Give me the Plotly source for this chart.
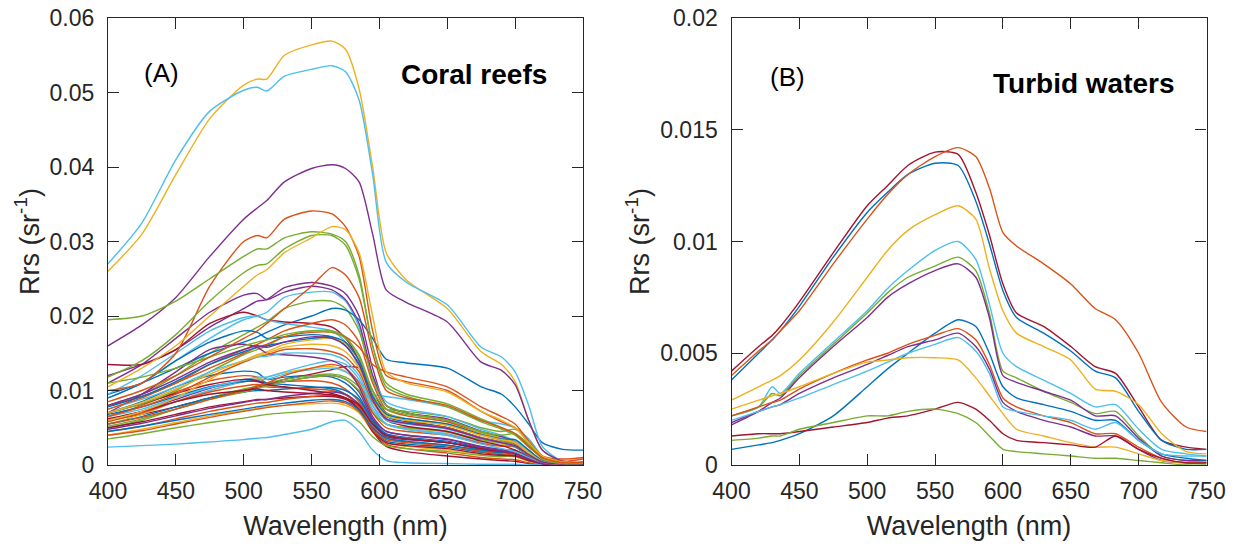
import plotly.graph_objects as go

# ---------------- data ----------------
WL_CORAL = [400, 425, 450, 475, 500, 510, 517, 530, 550, 565, 575, 585, 595, 605, 620, 650, 675, 690, 700, 710, 720, 735, 750]

coral_bright = [
    [0.0260, 0.0310, 0.0390, 0.0465, 0.0510, 0.0518, 0.0518, 0.0550, 0.0564, 0.0569, 0.0558, 0.0505, 0.0400, 0.0285, 0.0248, 0.0210, 0.0152, 0.0135, 0.0112, 0.0060, 0.0020, 0.0005, 0.0003],
    [0.0270, 0.0325, 0.0410, 0.0475, 0.0503, 0.0507, 0.0502, 0.0522, 0.0531, 0.0536, 0.0528, 0.0490, 0.0390, 0.0272, 0.0245, 0.0215, 0.0158, 0.0145, 0.0125, 0.0080, 0.0025, 0.0005, 0.0003],
    [0.0160, 0.0188, 0.0225, 0.0280, 0.0330, 0.0345, 0.0355, 0.0380, 0.0398, 0.0403, 0.0398, 0.0380, 0.0310, 0.0235, 0.0218, 0.0192, 0.0138, 0.0127, 0.0108, 0.0060, 0.0020, 0.0005, 0.0003],
    [0.0100, 0.0110, 0.0150, 0.0240, 0.0300, 0.0308, 0.0305, 0.0330, 0.0341, 0.0337, 0.0320, 0.0280, 0.0180, 0.0120, 0.0112, 0.0100, 0.0072, 0.0058, 0.0050, 0.0030, 0.0012, 0.0005, 0.0008],
    [0.0195, 0.0200, 0.0220, 0.0250, 0.0280, 0.0290, 0.0290, 0.0305, 0.0313, 0.0310, 0.0300, 0.0255, 0.0160, 0.0110, 0.0095, 0.0082, 0.0062, 0.0050, 0.0042, 0.0025, 0.0010, 0.0003, 0.0003],
    [0.0118, 0.0140, 0.0175, 0.0220, 0.0258, 0.0268, 0.0270, 0.0290, 0.0308, 0.0308, 0.0295, 0.0250, 0.0160, 0.0105, 0.0092, 0.0078, 0.0058, 0.0048, 0.0040, 0.0024, 0.0010, 0.0003, 0.0003],
    [0.0105, 0.0130, 0.0160, 0.0200, 0.0240, 0.0255, 0.0262, 0.0285, 0.0305, 0.0320, 0.0316, 0.0285, 0.0200, 0.0125, 0.0110, 0.0098, 0.0072, 0.0060, 0.0050, 0.0030, 0.0012, 0.0004, 0.0004],
    [0.0085, 0.0100, 0.0120, 0.0145, 0.0170, 0.0180, 0.0190, 0.0210, 0.0240, 0.0265, 0.0255, 0.0225, 0.0150, 0.0100, 0.0090, 0.0080, 0.0060, 0.0050, 0.0042, 0.0025, 0.0010, 0.0003, 0.0004],
]
coral_bright_colors = [2, 5, 3, 1, 4, 4, 2, 1]

coral_mid = [
    [0.0120, 0.0135, 0.0155, 0.0185, 0.0210, 0.0220, 0.0222, 0.0238, 0.0245, 0.0240, 0.0230, 0.0200, 0.0130, 0.0080, 0.0070, 0.0062, 0.0045, 0.0038, 0.0030, 0.0018, 0.0006, 0.0002, 0.0002],
    [0.0090, 0.0110, 0.0140, 0.0170, 0.0195, 0.0200, 0.0205, 0.0225, 0.0232, 0.0232, 0.0220, 0.0185, 0.0120, 0.0085, 0.0075, 0.0065, 0.0048, 0.0040, 0.0032, 0.0018, 0.0006, 0.0002, 0.0002],
    [0.0110, 0.0135, 0.0170, 0.0205, 0.0228, 0.0230, 0.0222, 0.0232, 0.0240, 0.0235, 0.0222, 0.0190, 0.0120, 0.0080, 0.0070, 0.0060, 0.0045, 0.0038, 0.0030, 0.0016, 0.0005, 0.0002, 0.0002],
    [0.0080, 0.0095, 0.0120, 0.0150, 0.0175, 0.0185, 0.0192, 0.0210, 0.0220, 0.0220, 0.0210, 0.0180, 0.0115, 0.0080, 0.0070, 0.0060, 0.0044, 0.0036, 0.0030, 0.0016, 0.0005, 0.0002, 0.0002],
    [0.0095, 0.0110, 0.0130, 0.0150, 0.0165, 0.0172, 0.0178, 0.0188, 0.0200, 0.0210, 0.0208, 0.0195, 0.0170, 0.0142, 0.0137, 0.0130, 0.0105, 0.0095, 0.0078, 0.0055, 0.0030, 0.0021, 0.0020],
    [0.0135, 0.0135, 0.0155, 0.0190, 0.0205, 0.0200, 0.0195, 0.0192, 0.0190, 0.0185, 0.0170, 0.0140, 0.0090, 0.0060, 0.0052, 0.0045, 0.0032, 0.0026, 0.0020, 0.0010, 0.0003, 0.0001, 0.0001],
    [0.0095, 0.0120, 0.0150, 0.0180, 0.0198, 0.0200, 0.0195, 0.0190, 0.0185, 0.0180, 0.0165, 0.0130, 0.0080, 0.0055, 0.0048, 0.0040, 0.0028, 0.0022, 0.0018, 0.0010, 0.0003, 0.0001, 0.0001],
    [0.0080, 0.0092, 0.0110, 0.0135, 0.0155, 0.0162, 0.0168, 0.0180, 0.0190, 0.0195, 0.0188, 0.0165, 0.0110, 0.0075, 0.0066, 0.0058, 0.0042, 0.0035, 0.0028, 0.0015, 0.0005, 0.0002, 0.0002],
    [0.0090, 0.0110, 0.0140, 0.0165, 0.0180, 0.0178, 0.0170, 0.0172, 0.0175, 0.0172, 0.0160, 0.0135, 0.0090, 0.0065, 0.0058, 0.0050, 0.0036, 0.0030, 0.0025, 0.0013, 0.0004, 0.0001, 0.0001],
    [0.0070, 0.0082, 0.0100, 0.0125, 0.0148, 0.0155, 0.0160, 0.0172, 0.0180, 0.0180, 0.0172, 0.0145, 0.0095, 0.0070, 0.0062, 0.0054, 0.0040, 0.0033, 0.0027, 0.0014, 0.0004, 0.0001, 0.0001],
    [0.0060, 0.0072, 0.0090, 0.0115, 0.0140, 0.0148, 0.0152, 0.0162, 0.0168, 0.0170, 0.0163, 0.0140, 0.0090, 0.0068, 0.0062, 0.0055, 0.0042, 0.0036, 0.0030, 0.0016, 0.0005, 0.0001, 0.0002],
    [0.0070, 0.0095, 0.0125, 0.0155, 0.0162, 0.0158, 0.0150, 0.0148, 0.0145, 0.0140, 0.0130, 0.0105, 0.0065, 0.0045, 0.0040, 0.0034, 0.0024, 0.0019, 0.0015, 0.0008, 0.0002, 0.0001, 0.0001],
    [0.0065, 0.0078, 0.0095, 0.0118, 0.0138, 0.0145, 0.0148, 0.0155, 0.0156, 0.0152, 0.0145, 0.0125, 0.0085, 0.0062, 0.0056, 0.0050, 0.0037, 0.0031, 0.0026, 0.0013, 0.0004, 0.0001, 0.0003],
    [0.0075, 0.0088, 0.0105, 0.0125, 0.0140, 0.0145, 0.0146, 0.0150, 0.0150, 0.0148, 0.0140, 0.0120, 0.0080, 0.0060, 0.0055, 0.0048, 0.0036, 0.0030, 0.0026, 0.0014, 0.0004, 0.0001, 0.0001],
    [0.0075, 0.0090, 0.0110, 0.0130, 0.0150, 0.0158, 0.0162, 0.0172, 0.0178, 0.0178, 0.0172, 0.0158, 0.0135, 0.0125, 0.0118, 0.0105, 0.0078, 0.0065, 0.0055, 0.0032, 0.0012, 0.0008, 0.0010],
    [0.0078, 0.0092, 0.0112, 0.0135, 0.0152, 0.0158, 0.0160, 0.0165, 0.0170, 0.0172, 0.0165, 0.0140, 0.0092, 0.0068, 0.0062, 0.0055, 0.0041, 0.0035, 0.0034, 0.0020, 0.0006, 0.0001, 0.0001],
    [0.0070, 0.0084, 0.0102, 0.0122, 0.0140, 0.0146, 0.0150, 0.0158, 0.0162, 0.0160, 0.0152, 0.0130, 0.0088, 0.0066, 0.0060, 0.0053, 0.0040, 0.0034, 0.0030, 0.0017, 0.0005, 0.0001, 0.0002],
    [0.0080, 0.0095, 0.0115, 0.0138, 0.0155, 0.0160, 0.0158, 0.0165, 0.0172, 0.0170, 0.0160, 0.0135, 0.0088, 0.0062, 0.0056, 0.0049, 0.0036, 0.0030, 0.0026, 0.0014, 0.0004, 0.0001, 0.0001],
    [0.0110, 0.0118, 0.0130, 0.0145, 0.0160, 0.0165, 0.0168, 0.0175, 0.0180, 0.0178, 0.0170, 0.0148, 0.0100, 0.0075, 0.0068, 0.0060, 0.0045, 0.0040, 0.0042, 0.0028, 0.0008, 0.0002, 0.0002],
]
coral_mid_colors = [3, 5, 3, 4, 0, 6, 5, 1, 0, 4, 2, 3, 1, 5, 1, 0, 2, 3, 4]

coral_low = [
    [0.0060, 0.0068, 0.0078, 0.0090, 0.0100, 0.0104, 0.0108, 0.0115, 0.0122, 0.0128, 0.0132, 0.0130, 0.0100, 0.0070, 0.0060, 0.0050, 0.0036, 0.0030, 0.0024, 0.0012, 0.0004, 0.0001, 0.0001],
    [0.0070, 0.0085, 0.0105, 0.0120, 0.0126, 0.0124, 0.0115, 0.0118, 0.0120, 0.0118, 0.0110, 0.0092, 0.0060, 0.0042, 0.0037, 0.0032, 0.0023, 0.0019, 0.0015, 0.0008, 0.0002, 0.0001, 0.0001],
    [0.0065, 0.0080, 0.0098, 0.0113, 0.0120, 0.0118, 0.0110, 0.0112, 0.0113, 0.0110, 0.0102, 0.0085, 0.0055, 0.0040, 0.0036, 0.0030, 0.0022, 0.0018, 0.0015, 0.0008, 0.0002, 0.0001, 0.0002],
    [0.0055, 0.0068, 0.0085, 0.0100, 0.0112, 0.0116, 0.0118, 0.0124, 0.0130, 0.0132, 0.0126, 0.0108, 0.0072, 0.0055, 0.0050, 0.0044, 0.0033, 0.0028, 0.0024, 0.0013, 0.0004, 0.0001, 0.0003],
    [0.0060, 0.0072, 0.0088, 0.0103, 0.0112, 0.0112, 0.0108, 0.0112, 0.0118, 0.0120, 0.0115, 0.0098, 0.0062, 0.0045, 0.0040, 0.0035, 0.0025, 0.0021, 0.0018, 0.0010, 0.0003, 0.0001, 0.0001],
    [0.0050, 0.0060, 0.0075, 0.0090, 0.0102, 0.0106, 0.0110, 0.0115, 0.0120, 0.0122, 0.0118, 0.0105, 0.0085, 0.0075, 0.0072, 0.0065, 0.0050, 0.0045, 0.0048, 0.0035, 0.0012, 0.0002, 0.0003],
    [0.0060, 0.0070, 0.0085, 0.0100, 0.0112, 0.0115, 0.0115, 0.0122, 0.0128, 0.0130, 0.0125, 0.0112, 0.0095, 0.0092, 0.0088, 0.0078, 0.0060, 0.0055, 0.0050, 0.0035, 0.0012, 0.0002, 0.0001],
    [0.0068, 0.0078, 0.0092, 0.0105, 0.0112, 0.0113, 0.0110, 0.0108, 0.0105, 0.0102, 0.0095, 0.0078, 0.0048, 0.0032, 0.0028, 0.0024, 0.0017, 0.0014, 0.0012, 0.0006, 0.0002, 0.0001, 0.0001],
    [0.0050, 0.0058, 0.0068, 0.0078, 0.0085, 0.0088, 0.0088, 0.0090, 0.0092, 0.0092, 0.0088, 0.0075, 0.0045, 0.0025, 0.0018, 0.0012, 0.0008, 0.0006, 0.0005, 0.0002, 0.0001, 0.0000, 0.0001],
    [0.0045, 0.0052, 0.0062, 0.0072, 0.0080, 0.0083, 0.0084, 0.0088, 0.0092, 0.0094, 0.0090, 0.0078, 0.0048, 0.0028, 0.0022, 0.0016, 0.0010, 0.0008, 0.0007, 0.0003, 0.0001, 0.0000, 0.0003],
    [0.0040, 0.0048, 0.0057, 0.0066, 0.0073, 0.0076, 0.0078, 0.0080, 0.0082, 0.0083, 0.0080, 0.0070, 0.0045, 0.0030, 0.0025, 0.0020, 0.0014, 0.0012, 0.0011, 0.0005, 0.0002, 0.0000, 0.0001],
    [0.0035, 0.0042, 0.0050, 0.0057, 0.0063, 0.0066, 0.0068, 0.0070, 0.0072, 0.0072, 0.0068, 0.0058, 0.0038, 0.0026, 0.0022, 0.0018, 0.0013, 0.0011, 0.0012, 0.0006, 0.0002, 0.0000, 0.0000],
    [0.0024, 0.0026, 0.0028, 0.0031, 0.0034, 0.0036, 0.0037, 0.0041, 0.0048, 0.0058, 0.0060, 0.0045, 0.0020, 0.0006, 0.0003, 0.0002, 0.0001, 0.0001, 0.0001, 0.0000, 0.0000, 0.0000, 0.0000],
    [0.0055, 0.0065, 0.0078, 0.0090, 0.0098, 0.0100, 0.0100, 0.0102, 0.0104, 0.0104, 0.0100, 0.0088, 0.0058, 0.0040, 0.0035, 0.0030, 0.0021, 0.0017, 0.0014, 0.0007, 0.0002, 0.0000, 0.0001],
    [0.0058, 0.0070, 0.0085, 0.0098, 0.0106, 0.0108, 0.0105, 0.0104, 0.0102, 0.0100, 0.0094, 0.0080, 0.0052, 0.0036, 0.0031, 0.0026, 0.0018, 0.0015, 0.0013, 0.0006, 0.0002, 0.0000, 0.0002],
    [0.0048, 0.0056, 0.0066, 0.0076, 0.0084, 0.0087, 0.0088, 0.0092, 0.0096, 0.0098, 0.0095, 0.0082, 0.0055, 0.0038, 0.0034, 0.0030, 0.0022, 0.0019, 0.0020, 0.0010, 0.0003, 0.0000, 0.0001],
    [0.0052, 0.0062, 0.0075, 0.0088, 0.0098, 0.0103, 0.0106, 0.0112, 0.0118, 0.0120, 0.0115, 0.0100, 0.0070, 0.0055, 0.0050, 0.0045, 0.0034, 0.0030, 0.0032, 0.0020, 0.0006, 0.0001, 0.0001],
    [0.0065, 0.0075, 0.0090, 0.0104, 0.0114, 0.0118, 0.0118, 0.0125, 0.0135, 0.0140, 0.0135, 0.0115, 0.0075, 0.0055, 0.0048, 0.0042, 0.0030, 0.0026, 0.0024, 0.0013, 0.0004, 0.0001, 0.0001],
    [0.0070, 0.0082, 0.0096, 0.0108, 0.0115, 0.0113, 0.0108, 0.0105, 0.0100, 0.0096, 0.0090, 0.0075, 0.0045, 0.0030, 0.0026, 0.0022, 0.0015, 0.0013, 0.0012, 0.0006, 0.0002, 0.0000, 0.0001],
    [0.0055, 0.0064, 0.0075, 0.0088, 0.0100, 0.0106, 0.0110, 0.0120, 0.0130, 0.0135, 0.0130, 0.0110, 0.0070, 0.0050, 0.0045, 0.0040, 0.0029, 0.0025, 0.0025, 0.0014, 0.0004, 0.0001, 0.0003],
    [0.0040, 0.0046, 0.0055, 0.0064, 0.0072, 0.0075, 0.0077, 0.0080, 0.0084, 0.0086, 0.0083, 0.0072, 0.0048, 0.0034, 0.0030, 0.0026, 0.0019, 0.0016, 0.0018, 0.0010, 0.0003, 0.0001, 0.0004],
    [0.0045, 0.0052, 0.0060, 0.0068, 0.0075, 0.0078, 0.0080, 0.0083, 0.0087, 0.0088, 0.0085, 0.0074, 0.0050, 0.0036, 0.0032, 0.0027, 0.0020, 0.0017, 0.0019, 0.0011, 0.0003, 0.0000, 0.0001],
    [0.0062, 0.0072, 0.0085, 0.0095, 0.0100, 0.0102, 0.0100, 0.0098, 0.0096, 0.0094, 0.0090, 0.0080, 0.0055, 0.0040, 0.0035, 0.0030, 0.0022, 0.0018, 0.0016, 0.0008, 0.0002, 0.0000, 0.0001],
]
coral_low_colors = [6, 0, 1, 2, 3, 4, 5, 0, 6, 1, 2, 4, 5, 0, 1, 3, 4, 5, 6, 1, 1, 0, 6]

WL_TURBID = [400, 420, 430, 436, 450, 475, 500, 515, 530, 550, 567, 580, 590, 600, 610, 630, 650, 668, 683, 700, 717, 735, 750]

turbid_spectra = [
    [0.0042, 0.0053, 0.0058, 0.0062, 0.0073, 0.0095, 0.0116, 0.0125, 0.0134, 0.0140, 0.0139, 0.0122, 0.0103, 0.0081, 0.0068, 0.0062, 0.0053, 0.0044, 0.0041, 0.0026, 0.0011, 0.0008, 0.0007],
    [0.0038, 0.0050, 0.0056, 0.0060, 0.0071, 0.0093, 0.0113, 0.0122, 0.0130, 0.0135, 0.0134, 0.0118, 0.0099, 0.0078, 0.0066, 0.0059, 0.0051, 0.0042, 0.0039, 0.0024, 0.0011, 0.0007, 0.0007],
    [0.0040, 0.0051, 0.0056, 0.0060, 0.0069, 0.0090, 0.0110, 0.0121, 0.0130, 0.0138, 0.0142, 0.0138, 0.0124, 0.0104, 0.0098, 0.0090, 0.0081, 0.0070, 0.0065, 0.0050, 0.0028, 0.0017, 0.0015],
    [0.0029, 0.0035, 0.0038, 0.0040, 0.0047, 0.0064, 0.0084, 0.0096, 0.0105, 0.0112, 0.0116, 0.0110, 0.0088, 0.0069, 0.0059, 0.0053, 0.0047, 0.0034, 0.0033, 0.0027, 0.0014, 0.0006, 0.0005],
    [0.0022, 0.0026, 0.0035, 0.0032, 0.0041, 0.0055, 0.0069, 0.0079, 0.0087, 0.0096, 0.0100, 0.0092, 0.0072, 0.0050, 0.0044, 0.0038, 0.0032, 0.0026, 0.0027, 0.0016, 0.0007, 0.0005, 0.0004],
    [0.0022, 0.0026, 0.0032, 0.0031, 0.0040, 0.0054, 0.0068, 0.0077, 0.0084, 0.0089, 0.0093, 0.0087, 0.0068, 0.0042, 0.0039, 0.0033, 0.0028, 0.0023, 0.0024, 0.0013, 0.0004, 0.0002, 0.0002],
    [0.0018, 0.0024, 0.0028, 0.0030, 0.0039, 0.0053, 0.0066, 0.0075, 0.0081, 0.0087, 0.0090, 0.0084, 0.0066, 0.0040, 0.0037, 0.0033, 0.0029, 0.0022, 0.0022, 0.0012, 0.0004, 0.0002, 0.0002],
    [0.0007, 0.0009, 0.0010, 0.0011, 0.0014, 0.0022, 0.0035, 0.0043, 0.0050, 0.0059, 0.0065, 0.0062, 0.0050, 0.0035, 0.0030, 0.0027, 0.0024, 0.0020, 0.0020, 0.0011, 0.0005, 0.0003, 0.0002],
    [0.0022, 0.0026, 0.0028, 0.0029, 0.0034, 0.0041, 0.0047, 0.0050, 0.0054, 0.0058, 0.0061, 0.0056, 0.0045, 0.0030, 0.0026, 0.0022, 0.0019, 0.0014, 0.0014, 0.0008, 0.0003, 0.0001, 0.0001],
    [0.0019, 0.0024, 0.0026, 0.0027, 0.0032, 0.0039, 0.0045, 0.0049, 0.0053, 0.0056, 0.0059, 0.0053, 0.0043, 0.0028, 0.0024, 0.0020, 0.0017, 0.0013, 0.0013, 0.0007, 0.0002, 0.0001, 0.0001],
    [0.0020, 0.0024, 0.0026, 0.0027, 0.0030, 0.0036, 0.0042, 0.0046, 0.0050, 0.0054, 0.0057, 0.0051, 0.0041, 0.0026, 0.0024, 0.0022, 0.0020, 0.0016, 0.0019, 0.0011, 0.0005, 0.0004, 0.0004],
    [0.0025, 0.0029, 0.0031, 0.0032, 0.0035, 0.0041, 0.0046, 0.0047, 0.0048, 0.0048, 0.0047, 0.0039, 0.0031, 0.0023, 0.0016, 0.0013, 0.0010, 0.0008, 0.0008, 0.0005, 0.0002, 0.0001, 0.0001],
    [0.0013, 0.0014, 0.0014, 0.0014, 0.0015, 0.0017, 0.0019, 0.0021, 0.0022, 0.0025, 0.0028, 0.0025, 0.0020, 0.0014, 0.0011, 0.0010, 0.0009, 0.0008, 0.0013, 0.0007, 0.0003, 0.0001, 0.0001],
    [0.0011, 0.0012, 0.0013, 0.0013, 0.0016, 0.0019, 0.0022, 0.0022, 0.0024, 0.0025, 0.0023, 0.0019, 0.0013, 0.0007, 0.0006, 0.0005, 0.0004, 0.0003, 0.0003, 0.0002, 0.0001, 0.0000, 0.0000],
]
turbid_colors = [6, 0, 1, 2, 5, 4, 3, 0, 1, 3, 5, 2, 6, 4]

CORAL_TICKS = [0, 0.01, 0.02, 0.03, 0.04, 0.05, 0.06]
CORAL_TICK_TEXT = ["0", "0.01", "0.02", "0.03", "0.04", "0.05", "0.06"]
TURBID_TICKS = [0, 0.005, 0.01, 0.015, 0.02]
TURBID_TICK_TEXT = ["0", "0.005", "0.01", "0.015", "0.02"]
WL_TICKS = [400, 450, 500, 550, 600, 650, 700, 750]

# ---------------- style ----------------
MATLAB = ['#0072BD', '#D95319', '#EDB120', '#7E2F8E', '#77AC30', '#4DBEEE', '#A2142F']
W, H = 1237, 549
FONT = "Arial, Liberation Sans, Helvetica, sans-serif"
AX = '#262626'

fig = go.Figure()

def add_lines(wl, spectra, colors, xa, ya):
    for s, c in zip(spectra, colors):
        fig.add_trace(go.Scatter(x=wl, y=s, mode='lines', xaxis=xa, yaxis=ya,
                                 line=dict(color=MATLAB[c], width=1.4, shape='spline', smoothing=0.7),
                                 showlegend=False, hoverinfo='skip'))

add_lines(WL_CORAL, coral_low, coral_low_colors, 'x', 'y')
add_lines(WL_CORAL, coral_mid, coral_mid_colors, 'x', 'y')
add_lines(WL_CORAL, coral_bright, coral_bright_colors, 'x', 'y')
add_lines(WL_TURBID, turbid_spectra, turbid_colors, 'x2', 'y2')

ydom = [1 - 465 / H, 1 - 18 / H]
common_x = dict(range=[400, 750], tickvals=WL_TICKS, ticks='inside', ticklen=11, tickwidth=1.3,
                tickcolor=AX, showline=True, linecolor=AX, linewidth=1.3, mirror='ticks',
                showgrid=False, zeroline=False, tickfont=dict(family=FONT, size=23, color=AX),
                title=dict(text='Wavelength (nm)', font=dict(family=FONT, size=27, color=AX), standoff=13),
                ticklabelstandoff=5, automargin=False)
common_y = dict(ticks='inside', ticklen=11, tickwidth=1.3, tickcolor=AX, showline=True, linecolor=AX,
                linewidth=1.3, mirror='ticks', showgrid=False, zeroline=False,
                tickfont=dict(family=FONT, size=23, color=AX), ticklabelstandoff=8, automargin=False,
                title=dict(text='Rrs (sr<sup>-1</sup>)', font=dict(family=FONT, size=27, color=AX), standoff=2))

fig.update_layout(
    width=W, height=H, margin=dict(l=0, r=0, t=0, b=0),
    paper_bgcolor='white', plot_bgcolor='white',
    xaxis=dict(domain=[108 / W, 583 / W], anchor='y', **common_x),
    xaxis2=dict(domain=[731.5 / W, 1206.5 / W], anchor='y2', **common_x),
    yaxis=dict(domain=ydom, anchor='x', range=[0, 0.06], tickvals=CORAL_TICKS, ticktext=CORAL_TICK_TEXT, **common_y),
    yaxis2=dict(domain=ydom, anchor='x2', range=[0, 0.02], tickvals=TURBID_TICKS, ticktext=TURBID_TICK_TEXT, **common_y),
)

def px_ann(text, x, y, size, bold=False, xanchor='center'):
    fig.add_annotation(text=f"<b>{text}</b>" if bold else text, x=x / W, y=1 - y / H,
                       xref='paper', yref='paper', xanchor=xanchor, yanchor='middle', showarrow=False,
                       font=dict(family=FONT, size=size, color='black'))

px_ann('(A)', 161, 73, 26)
px_ann('Coral reefs', 549, 74, 28, bold=True, xanchor='right')
px_ann('(B)', 788, 77, 26)
px_ann('Turbid waters', 1177, 83, 28, bold=True, xanchor='right')

fig.write_html("out.html")
